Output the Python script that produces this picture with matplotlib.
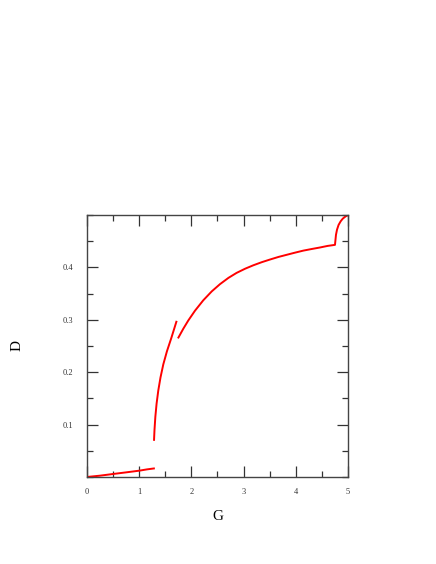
import matplotlib
matplotlib.use("Agg")
import matplotlib.pyplot as plt
from matplotlib.ticker import MultipleLocator, FixedLocator

# Branch 1 (low)
g1 = [0.0, 0.25, 0.5, 0.75, 1.0, 1.15, 1.3]
d1 = [0.0, 0.0025, 0.0057, 0.0088, 0.012, 0.0145, 0.0165]
# Branch 2 (steep)
g2 = [1.284, 1.2935, 1.3098, 1.3335, 1.366, 1.4085, 1.4623, 1.532, 1.615, 1.718]
d2 = [0.069, 0.090, 0.115, 0.140, 0.165, 0.190, 0.215, 0.240, 0.265, 0.298]
# Branch 3 (upper)
g3 = [1.743, 1.845, 1.941, 2.069, 2.228, 2.39, 2.548, 2.71, 2.866, 3.03, 3.186,
      3.35, 3.506, 3.67, 3.825, 3.98, 4.144, 4.30, 4.464, 4.61, 4.751,
      4.76, 4.77, 4.79, 4.82, 4.86, 4.90, 4.95, 5.0]
d3 = [0.2645, 0.2829, 0.2987, 0.3173, 0.3372, 0.3542, 0.368, 0.380, 0.3895, 0.3975, 0.404,
      0.410, 0.415, 0.420, 0.424, 0.428, 0.432, 0.435, 0.438, 0.441, 0.443,
      0.452, 0.462, 0.472, 0.481, 0.488, 0.493, 0.497, 0.500]

xticks = [0, 1, 2, 3, 4, 5]
yticks = [0.1, 0.2, 0.3, 0.4]

plt.rcParams['font.family'] = ['Liberation Serif', 'DejaVu Serif']

fig = plt.figure(figsize=(4.36, 5.64), dpi=100)
ax = fig.add_axes([0.1995, 0.1543, 0.5986, 0.4645])

for g, d in [(g1, d1), (g2, d2), (g3, d3)]:
    ax.plot(g, d, color='#ff0000', lw=1.4, solid_capstyle='butt',
            solid_joinstyle='round')

ax.set_xlim(0, 5)
ax.set_ylim(0, 0.5)
ax.xaxis.set_major_locator(FixedLocator(xticks))
ax.yaxis.set_major_locator(FixedLocator(yticks))
ax.xaxis.set_minor_locator(MultipleLocator(0.5))
ax.yaxis.set_minor_locator(MultipleLocator(0.05))
ax.tick_params(which='both', direction='in', top=True, right=True,
               colors='#333333', labelsize=6, labelcolor='#333333')
ax.tick_params(which='major', length=8, width=0.9, pad=8)
ax.tick_params(which='minor', length=4, width=0.9)
ax.tick_params(axis='y', which='major', pad=10)
for s in ax.spines.values():
    s.set_color('#444444')
    s.set_linewidth(1.0)

ax.set_xlabel('G', fontsize=11, labelpad=10)
ax.set_ylabel('D', fontsize=11, labelpad=28)

fig.savefig('out.png', dpi=100)
